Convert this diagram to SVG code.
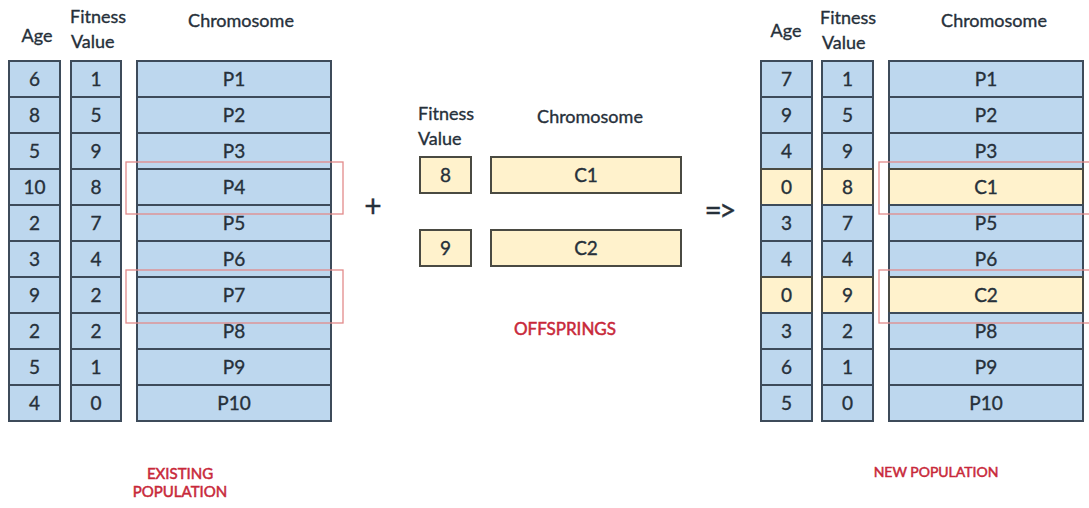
<svg xmlns="http://www.w3.org/2000/svg" width="1089" height="508" viewBox="0 0 1089 508">
<style>
text{font-family:Lato,"Open Sans","Liberation Sans",sans-serif;fill:#26303a;stroke:#26303a;stroke-width:0.35}
.h{font-size:18px}
.c{font-size:19px;text-anchor:middle}
.b{fill:#bdd7ee;stroke:#3d4b5a;stroke-width:2}
.y{fill:#fff2cc;stroke:#4a4a42;stroke-width:2}
.hl{fill:none;stroke:#e28a8a;stroke-width:1.3}
.r{fill:#c8283a;stroke:#c8283a;stroke-width:0.5;font-size:15px;text-anchor:middle}
.op{font-size:30px;text-anchor:middle}
</style>
<rect width="1089" height="508" fill="#ffffff"/>

<g id="existing-population">
<text class="h" x="37" y="42" text-anchor="middle">Age</text>
<text class="h" x="70" y="23">Fitness</text>
<text class="h" x="71" y="48">Value</text>
<text class="h" x="241" y="27" text-anchor="middle">Chromosome</text>
<g id="ex-rows">
<rect class="b" x="9" y="61" width="51" height="36"/><rect class="b" x="71" y="61" width="50" height="36"/><rect class="b" x="137" y="61" width="194" height="36"/>
<text class="c" x="34.5" y="86">6</text><text class="c" x="96" y="86">1</text><text class="c" x="234" y="86">P1</text>
<rect class="b" x="9" y="97" width="51" height="36"/><rect class="b" x="71" y="97" width="50" height="36"/><rect class="b" x="137" y="97" width="194" height="36"/>
<text class="c" x="34.5" y="122">8</text><text class="c" x="96" y="122">5</text><text class="c" x="234" y="122">P2</text>
<rect class="b" x="9" y="133" width="51" height="36"/><rect class="b" x="71" y="133" width="50" height="36"/><rect class="b" x="137" y="133" width="194" height="36"/>
<text class="c" x="34.5" y="158">5</text><text class="c" x="96" y="158">9</text><text class="c" x="234" y="158">P3</text>
<rect class="b" x="9" y="169" width="51" height="36"/><rect class="b" x="71" y="169" width="50" height="36"/><rect class="b" x="137" y="169" width="194" height="36"/>
<text class="c" x="34.5" y="194">10</text><text class="c" x="96" y="194">8</text><text class="c" x="234" y="194">P4</text>
<rect class="b" x="9" y="205" width="51" height="36"/><rect class="b" x="71" y="205" width="50" height="36"/><rect class="b" x="137" y="205" width="194" height="36"/>
<text class="c" x="34.5" y="230">2</text><text class="c" x="96" y="230">7</text><text class="c" x="234" y="230">P5</text>
<rect class="b" x="9" y="241" width="51" height="36"/><rect class="b" x="71" y="241" width="50" height="36"/><rect class="b" x="137" y="241" width="194" height="36"/>
<text class="c" x="34.5" y="266">3</text><text class="c" x="96" y="266">4</text><text class="c" x="234" y="266">P6</text>
<rect class="b" x="9" y="277" width="51" height="36"/><rect class="b" x="71" y="277" width="50" height="36"/><rect class="b" x="137" y="277" width="194" height="36"/>
<text class="c" x="34.5" y="302">9</text><text class="c" x="96" y="302">2</text><text class="c" x="234" y="302">P7</text>
<rect class="b" x="9" y="313" width="51" height="36"/><rect class="b" x="71" y="313" width="50" height="36"/><rect class="b" x="137" y="313" width="194" height="36"/>
<text class="c" x="34.5" y="338">2</text><text class="c" x="96" y="338">2</text><text class="c" x="234" y="338">P8</text>
<rect class="b" x="9" y="349" width="51" height="36"/><rect class="b" x="71" y="349" width="50" height="36"/><rect class="b" x="137" y="349" width="194" height="36"/>
<text class="c" x="34.5" y="374">5</text><text class="c" x="96" y="374">1</text><text class="c" x="234" y="374">P9</text>
<rect class="b" x="9" y="385" width="51" height="36"/><rect class="b" x="71" y="385" width="50" height="36"/><rect class="b" x="137" y="385" width="194" height="36"/>
<text class="c" x="34.5" y="410">4</text><text class="c" x="96" y="410">0</text><text class="c" x="234" y="410">P10</text>
</g>
<rect class="hl" x="126" y="162" width="217" height="52"/>
<rect class="hl" x="126" y="270" width="217" height="53"/>
<text class="r" x="180" y="479">EXISTING</text>
<text class="r" x="180" y="497">POPULATION</text>
</g>

<g id="plus"><text class="op" x="373" y="217">+</text></g>

<g id="offsprings">
<text class="h" x="418" y="120">Fitness</text>
<text class="h" x="418" y="145">Value</text>
<text class="h" x="590" y="123" text-anchor="middle">Chromosome</text>
<rect class="y" x="420" y="157" width="51" height="36"/><rect class="y" x="491" y="157" width="190" height="36"/>
<text class="c" x="445.5" y="182">8</text><text class="c" x="586" y="182">C1</text>
<rect class="y" x="420" y="230" width="51" height="36"/><rect class="y" x="491" y="230" width="190" height="36"/>
<text class="c" x="445.5" y="255">9</text><text class="c" x="586" y="255">C2</text>
<text class="r" x="565" y="335" style="font-size:17px">OFFSPRINGS</text>
</g>

<g id="arrow"><text class="op" x="719" y="221" letter-spacing="-3">=&gt;</text></g>

<g id="new-population">
<text class="h" x="786" y="37" text-anchor="middle">Age</text>
<text class="h" x="820" y="24">Fitness</text>
<text class="h" x="822" y="49">Value</text>
<text class="h" x="994" y="27" text-anchor="middle">Chromosome</text>
<g id="new-rows">
<rect class="b" x="761" y="61" width="51" height="36"/><rect class="b" x="822" y="61" width="51" height="36"/><rect class="b" x="889" y="61" width="194" height="36"/>
<text class="c" x="786.5" y="86">7</text><text class="c" x="847.5" y="86">1</text><text class="c" x="986" y="86">P1</text>
<rect class="b" x="761" y="97" width="51" height="36"/><rect class="b" x="822" y="97" width="51" height="36"/><rect class="b" x="889" y="97" width="194" height="36"/>
<text class="c" x="786.5" y="122">9</text><text class="c" x="847.5" y="122">5</text><text class="c" x="986" y="122">P2</text>
<rect class="b" x="761" y="133" width="51" height="36"/><rect class="b" x="822" y="133" width="51" height="36"/><rect class="b" x="889" y="133" width="194" height="36"/>
<text class="c" x="786.5" y="158">4</text><text class="c" x="847.5" y="158">9</text><text class="c" x="986" y="158">P3</text>
<rect class="y" x="761" y="169" width="51" height="36"/><rect class="y" x="822" y="169" width="51" height="36"/><rect class="y" x="889" y="169" width="194" height="36"/>
<text class="c" x="786.5" y="194">0</text><text class="c" x="847.5" y="194">8</text><text class="c" x="986" y="194">C1</text>
<rect class="b" x="761" y="205" width="51" height="36"/><rect class="b" x="822" y="205" width="51" height="36"/><rect class="b" x="889" y="205" width="194" height="36"/>
<text class="c" x="786.5" y="230">3</text><text class="c" x="847.5" y="230">7</text><text class="c" x="986" y="230">P5</text>
<rect class="b" x="761" y="241" width="51" height="36"/><rect class="b" x="822" y="241" width="51" height="36"/><rect class="b" x="889" y="241" width="194" height="36"/>
<text class="c" x="786.5" y="266">4</text><text class="c" x="847.5" y="266">4</text><text class="c" x="986" y="266">P6</text>
<rect class="y" x="761" y="277" width="51" height="36"/><rect class="y" x="822" y="277" width="51" height="36"/><rect class="y" x="889" y="277" width="194" height="36"/>
<text class="c" x="786.5" y="302">0</text><text class="c" x="847.5" y="302">9</text><text class="c" x="986" y="302">C2</text>
<rect class="b" x="761" y="313" width="51" height="36"/><rect class="b" x="822" y="313" width="51" height="36"/><rect class="b" x="889" y="313" width="194" height="36"/>
<text class="c" x="786.5" y="338">3</text><text class="c" x="847.5" y="338">2</text><text class="c" x="986" y="338">P8</text>
<rect class="b" x="761" y="349" width="51" height="36"/><rect class="b" x="822" y="349" width="51" height="36"/><rect class="b" x="889" y="349" width="194" height="36"/>
<text class="c" x="786.5" y="374">6</text><text class="c" x="847.5" y="374">1</text><text class="c" x="986" y="374">P9</text>
<rect class="b" x="761" y="385" width="51" height="36"/><rect class="b" x="822" y="385" width="51" height="36"/><rect class="b" x="889" y="385" width="194" height="36"/>
<text class="c" x="786.5" y="410">5</text><text class="c" x="847.5" y="410">0</text><text class="c" x="986" y="410">P10</text>
</g>
<rect class="hl" x="879" y="162" width="220" height="52"/>
<rect class="hl" x="879" y="270" width="220" height="53"/>
<text class="r" x="936" y="477" style="font-size:14px">NEW POPULATION</text>
</g>

<g id="connectors"></g>
</svg>
